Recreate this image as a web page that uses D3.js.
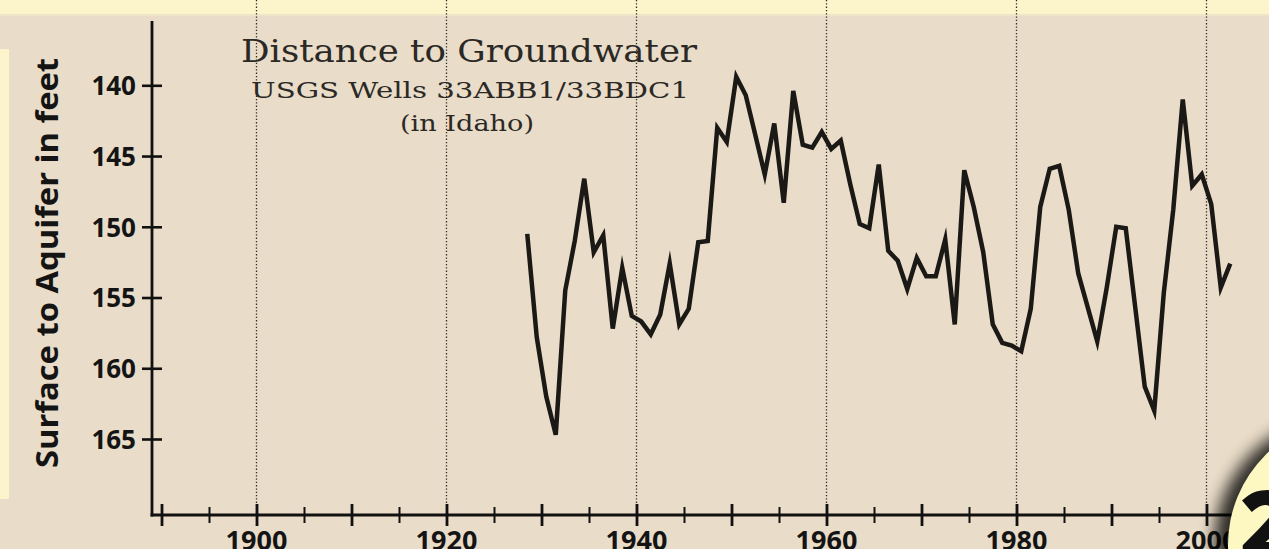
<!DOCTYPE html>
<html>
<head>
<meta charset="utf-8">
<script src="https://cdn.jsdelivr.net/npm/d3@7"></script>
<style>
  html, body { margin: 0; padding: 0; background: #e9dcc8; overflow: hidden; }
  svg { display: block; }
</style>
</head>
<body>
<svg id="chart" width="1269" height="549"></svg>
<script>
// Annual depth to groundwater, USGS wells 33ABB1/33BDC1 (Idaho)
const years = [
  1928, 1929, 1930, 1931, 1932, 1933, 1934, 1935, 1936, 1937,
  1938, 1939, 1940, 1941, 1942, 1943, 1944, 1945, 1946, 1947,
  1948, 1949, 1950, 1951, 1952, 1953, 1954, 1955, 1956, 1957,
  1958, 1959, 1960, 1961, 1962, 1963, 1964, 1965, 1966, 1967,
  1968, 1969, 1970, 1971, 1972, 1973, 1974, 1975, 1976, 1977,
  1978, 1979, 1980, 1981, 1982, 1983, 1984, 1985, 1986, 1987,
  1988, 1989, 1990, 1991, 1992, 1993, 1994, 1995, 1996, 1997,
  1998, 1999, 2000, 2001, 2002
];
const depthFeet = [
  150.5, 157.8, 162.0, 164.7, 154.5, 151.0, 146.6, 151.8, 150.6, 157.2,
  152.9, 156.3, 156.7, 157.6, 156.2, 152.6, 156.9, 155.8, 151.1, 151.0,
  143.0, 144.0, 139.4, 140.7, 143.5, 146.3, 142.7, 148.3, 140.4, 144.2,
  144.4, 143.3, 144.5, 143.9, 147.0, 149.8, 150.1, 145.6, 151.7, 152.4,
  154.4, 152.2, 153.5, 153.5, 150.9, 156.9, 146.0, 148.6, 151.8, 156.9,
  158.2, 158.4, 158.8, 155.8, 148.6, 145.9, 145.7, 148.8, 153.3, 155.7,
  158.1, 154.3, 150.0, 150.1, 155.7, 161.3, 163.0, 154.7, 148.8, 141.0,
  147.1, 146.3, 148.4, 154.3, 152.6
];
const yTicks = [140, 145, 150, 155, 160, 165];
const xMajorTicks = [1890, 1900, 1910, 1920, 1930, 1940, 1950, 1960, 1970, 1980, 1990, 2000, 2010];
const xMinorTicks = [1895, 1905, 1915, 1925, 1935, 1945, 1955, 1965, 1975, 1985, 1995, 2005];
const xLabelTicks = [1900, 1920, 1940, 1960, 1980, 2000];
const gridYears = [1900, 1920, 1940, 1960, 1980, 2000];
const titleLines = ["Distance to Groundwater", "USGS Wells 33ABB1/33BDC1", "(in Idaho)"];
const yTitle = "Surface to Aquifer in feet";

const svg = d3.select("#chart");
const W = 1269, H = 549;
const axisX = 152, axisY = 515, axisTop = 21;

const x = d3.scaleLinear().domain([1890, 2000]).range([161.5, 1206.5]);
const y = d3.scaleLinear().domain([140, 165]).range([85.3, 439]);

// panel background and surrounding page elements
svg.append("rect").attr("width", W).attr("height", H).attr("fill", "#e9dcc8");
svg.append("rect").attr("x", 0).attr("y", 0).attr("width", W).attr("height", 14).attr("fill", "#fcf5cb");
svg.append("rect").attr("x", 0).attr("y", 14).attr("width", W).attr("height", 2).attr("fill", "#efe4c6");
svg.append("rect").attr("x", -5).attr("y", 49).attr("width", 14).attr("height", 450).attr("fill", "#fcf5cb");

// dotted vertical gridlines
svg.append("g").selectAll("line").data(gridYears).join("line")
  .attr("x1", d => x(d)).attr("x2", d => x(d))
  .attr("y1", 0).attr("y2", axisY)
  .attr("stroke", "#2e2a26").attr("stroke-width", 1.3)
  .attr("stroke-dasharray", "1.3,2");

// titles
const serif = "'DejaVu Serif', 'Liberation Serif', serif";
svg.append("text").attr("x", 469).attr("y", 62)
  .attr("text-anchor", "middle").attr("font-family", serif).attr("font-size", 31)
  .attr("fill", "#2b2926").attr("textLength", 456).attr("lengthAdjust", "spacingAndGlyphs")
  .text(titleLines[0]);
svg.append("text").attr("x", 470).attr("y", 98)
  .attr("text-anchor", "middle").attr("font-family", serif).attr("font-size", 23)
  .attr("fill", "#2b2926").attr("textLength", 438).attr("lengthAdjust", "spacingAndGlyphs")
  .text(titleLines[1]);
svg.append("text").attr("x", 467).attr("y", 131)
  .attr("text-anchor", "middle").attr("font-family", serif).attr("font-size", 23)
  .attr("fill", "#2b2926").attr("textLength", 134).attr("lengthAdjust", "spacingAndGlyphs")
  .text(titleLines[2]);

// y axis title
svg.append("text")
  .attr("transform", "translate(58,263) rotate(-90)")
  .attr("text-anchor", "middle")
  .attr("font-family", "'Open Sans', 'Noto Sans', sans-serif")
  .attr("font-weight", 700).attr("font-size", 30)
  .attr("fill", "#141414").attr("textLength", 410).attr("lengthAdjust", "spacingAndGlyphs")
  .text(yTitle);

// data line
const line = d3.line()
  .x((d, i) => x(years[i] + 0.5))
  .y(d => y(d));
svg.append("path").datum(depthFeet)
  .attr("d", line)
  .attr("fill", "none").attr("stroke", "#1b1916")
  .attr("stroke-width", 4.5).attr("stroke-linejoin", "miter").attr("stroke-miterlimit", 6);

// axes
const axisColor = "#111";
const yAxis = svg.append("g").attr("transform", `translate(${axisX},0)`)
  .call(d3.axisLeft(y).tickValues(yTicks).tickSize(20).tickPadding(0).tickFormat(d3.format("d")));
yAxis.select(".domain").remove();
yAxis.selectAll(".tick line").attr("x1", 10).attr("x2", -10)
  .attr("stroke", axisColor).attr("stroke-width", 2.6);
yAxis.selectAll(".tick text")
  .attr("x", -16).attr("dy", "0.36em")
  .attr("font-family", "'Open Sans', 'Noto Sans', sans-serif")
  .attr("font-weight", 700).attr("font-size", 26).attr("fill", "#141414");

const xAxis = svg.append("g").attr("transform", `translate(0,${axisY})`)
  .call(d3.axisBottom(x).tickValues(xMajorTicks).tickSize(22).tickFormat(""));
xAxis.select(".domain").remove();
xAxis.selectAll(".tick line").attr("y1", -11).attr("y2", 11)
  .attr("stroke", axisColor).attr("stroke-width", 2.8);

const xMinor = svg.append("g").attr("transform", `translate(0,${axisY})`)
  .call(d3.axisBottom(x).tickValues(xMinorTicks).tickSize(16).tickFormat(""));
xMinor.select(".domain").remove();
xMinor.selectAll(".tick line").attr("y1", -8).attr("y2", 8)
  .attr("stroke", axisColor).attr("stroke-width", 2);

svg.append("g").selectAll("text").data(xLabelTicks).join("text")
  .attr("x", d => x(d)).attr("y", 550)
  .attr("text-anchor", "middle")
  .attr("font-family", "'Open Sans', 'Noto Sans', sans-serif")
  .attr("font-weight", 700).attr("font-size", 27).attr("fill", "#141414")
  .text(d => d);

svg.append("line").attr("x1", axisX).attr("x2", axisX).attr("y1", axisTop).attr("y2", axisY + 1.4)
  .attr("stroke", axisColor).attr("stroke-width", 2.8);
svg.append("line").attr("x1", axisX - 1.4).attr("x2", W).attr("y1", axisY).attr("y2", axisY)
  .attr("stroke", axisColor).attr("stroke-width", 2.8);

// page badge in the lower right corner
const defs = svg.append("defs");
defs.append("filter").attr("id", "shadow").attr("x", "-30%").attr("y", "-30%").attr("width", "160%").attr("height", "160%")
  .append("feGaussianBlur").attr("stdDeviation", 8);
svg.append("circle").attr("cx", 1344).attr("cy", 545).attr("r", 130)
  .attr("fill", "#000").attr("opacity", 0.8).attr("filter", "url(#shadow)");
svg.append("circle").attr("cx", 1355).attr("cy", 545).attr("r", 127).attr("fill", "#fdf7c2");
svg.append("text").attr("x", 1240).attr("y", 557)
  .attr("font-family", "'Open Sans', 'Noto Sans', sans-serif")
  .attr("font-weight", 800).attr("font-size", 92).attr("fill", "#111")
  .text("2");
</script>
</body>
</html>
